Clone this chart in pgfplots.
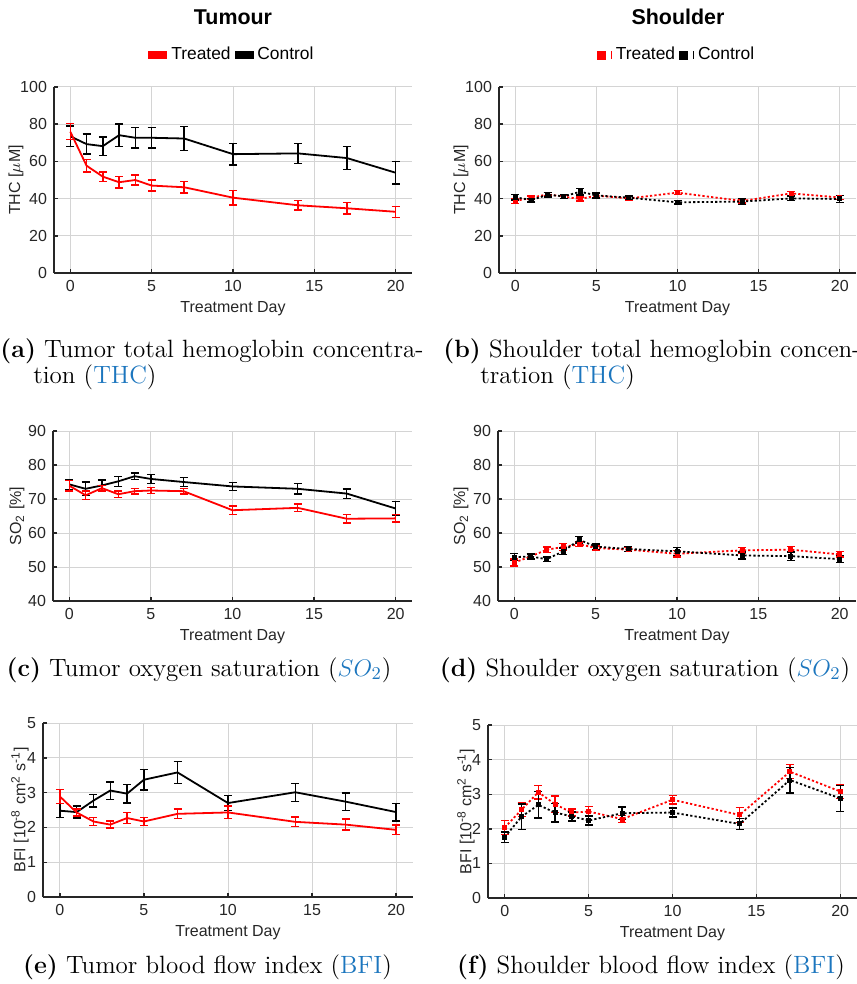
\documentclass[border=0pt]{standalone}
\usepackage{fontspec}
\setsansfont{Liberation Sans}
\usepackage{pgfplots}
\pgfplotsset{compat=1.18}

\definecolor{capblue}{RGB}{28,118,190}
\newcommand\capfont{\rmfamily\fontsize{12.5}{15}\selectfont}
\newcommand\axfont{\sffamily\fontsize{8}{9.5}\selectfont}

\pgfplotsset{
  panel/.style={
    scale only axis,
    axis x line*=bottom, axis y line*=left,
    axis line style={-, black!85, line width=0.7pt},
    xmin=-1, xmax=21, xtick={0,5,10,15,20},
    grid=major, grid style={black!17, line width=0.5pt},
    tick align=inside, major tick length=2pt,
    tick style={black!85, line width=0.7pt},
    tick label style={font=\axfont, text=black!85},
    label style={font=\axfont, text=black!85},
    /pgf/number format/assume math mode=true,
    xlabel={Treatment Day},
    xlabel style={yshift=2pt},
  },
  yl/.style={every axis y label/.style={at={([xshift=-#1]axis description cs:0,0.5)},
    rotate=90, anchor=center, font=\axfont, text=black!85}},
  tr/.style={red, line width=0.9pt, mark=none},
  ct/.style={black, line width=0.9pt, mark=none},
  trd/.style={red, line width=0.9pt, dash pattern=on 1.1pt off 1.1pt, mark=square*, mark size=0.8pt, mark options={solid}},
  ctd/.style={black, line width=0.9pt, dash pattern=on 1.1pt off 1.1pt, mark=square*, mark size=0.8pt, mark options={solid}},
  ebr/.style={error bars/.cd, y dir=both, y explicit,
    error bar style={red, line width=0.7pt, solid},
    error mark=-,
    error mark options={rotate=90, red, mark size=2pt, line width=0.7pt, solid}},
  ebk/.style={error bars/.cd, y dir=both, y explicit,
    error bar style={black, line width=0.7pt, solid},
    error mark=-,
    error mark options={rotate=90, black, mark size=2pt, line width=0.7pt, solid}},
  leg/.style={legend style={draw=none, fill=none, font=\sffamily\fontsize{8.7}{10}\selectfont,
    at={(0.5,1)}, anchor=center, yshift=16pt, inner sep=0pt,
    /tikz/every even column/.append style={column sep=0pt}},
    legend columns=2},
}

\begin{document}
\begin{tikzpicture}
\useasboundingbox (0pt,0pt) rectangle (428pt,-492pt);

\node[font=\sffamily\bfseries\fontsize{10.7}{12}\selectfont] at (116.5pt,-8.5pt) {Tumour};
\node[font=\sffamily\bfseries\fontsize{10.7}{12}\selectfont] at (339pt,-8.5pt) {Shoulder};

% (a) tumour THC
\begin{axis}[panel, leg, yl=19pt, at={(27pt,-136.5pt)}, anchor=south west, width=179pt, height=93pt,
  ymin=0, ymax=100, ytick={0,20,...,100}, ylabel={THC [$\mu$M]}]
\addlegendimage{legend image code/.code={\fill[red] (0pt,-1.6pt) rectangle (9pt,1.6pt);}}
\addlegendentry{Treated}
\addlegendimage{legend image code/.code={\fill[black] (0pt,-1.6pt) rectangle (9pt,1.6pt);}}
\addlegendentry{Control}
\addplot[forget plot, ct, ebk] coordinates {
 (0,73.5) +- (0,5.5) (1,69.3) +- (0,5.4) (2,68.2) +- (0,5) (3,74.1) +- (0,6)
 (4,72.7) +- (0,5.6) (5,72.7) +- (0,5.6) (7,72.3) +- (0,6.4) (10,63.9) +- (0,5.8)
 (14,64.3) +- (0,5.3) (17,61.8) +- (0,6.3) (20,53.9) +- (0,6)};
\addplot[forget plot, tr, ebr] coordinates {
 (0,76) +- (0,4.3) (1,57.7) +- (0,3.3) (2,51.8) +- (0,2.5) (3,48.8) +- (0,3)
 (4,50) +- (0,2.7) (5,47) +- (0,3) (7,46.1) +- (0,3) (10,40.5) +- (0,3.9)
 (14,36.4) +- (0,2.5) (17,34.8) +- (0,3) (20,32.9) +- (0,3)};
\end{axis}

% (b) shoulder THC
\begin{axis}[panel, leg, yl=19pt, at={(249.5pt,-136.5pt)}, anchor=south west, width=178.5pt, height=93pt,
  ymin=0, ymax=100, ytick={0,20,...,100}, ylabel={THC [$\mu$M]}]
\addlegendimage{legend image code/.code={\fill[red] (0pt,-2pt) rectangle (4pt,2pt);
  \draw[red, line width=0.6pt] (7pt,-2pt) -- (7pt,2pt);}}
\addlegendentry{Treated}
\addlegendimage{legend image code/.code={\fill[black] (0pt,-2pt) rectangle (4pt,2pt);
  \draw[black, line width=0.6pt] (7pt,-2pt) -- (7pt,2pt);}}
\addlegendentry{Control}
\addplot[forget plot, trd, ebr] coordinates {
 (0,38.7) +- (0,1.2) (1,40.5) +- (0,1) (2,42.3) +- (0,1) (3,41) +- (0,1)
 (4,39.8) +- (0,1) (5,41.6) +- (0,1) (7,40.1) +- (0,1) (10,43.2) +- (0,1)
 (14,38.7) +- (0,1) (17,42.8) +- (0,1) (20,40.6) +- (0,1)};
\addplot[forget plot, ctd, ebk] coordinates {
 (0,40.7) +- (0,1.5) (1,39.2) +- (0,1) (2,42.1) +- (0,1.3) (3,41.2) +- (0,1)
 (4,43.7) +- (0,1.8) (5,41.7) +- (0,1.3) (7,40.5) +- (0,1) (10,38) +- (0,1)
 (14,38.4) +- (0,1.5) (17,40.1) +- (0,1.2) (20,39.8) +- (0,2)};
\end{axis}

% (c) tumour SO2
\begin{axis}[panel, yl=18pt, at={(26.5pt,-300.5pt)}, anchor=south west, width=179.5pt, height=85pt,
  ymin=40, ymax=90, ytick={40,50,...,90}, ylabel={SO\textsubscript{2} [\%]}]
\addplot[ct, ebk] coordinates {
 (0,74.3) +- (0,1.5) (1,73) +- (0,2) (2,74) +- (0,1.6) (3,75.2) +- (0,1.5)
 (4,76.7) +- (0,1) (5,75.9) +- (0,1.3) (7,75) +- (0,1.4) (10,73.7) +- (0,1.2)
 (14,73) +- (0,1.5) (17,71.6) +- (0,1.4) (20,67.2) +- (0,2)};
\addplot[tr, ebr] coordinates {
 (0,73.9) +- (0,1.5) (1,71.1) +- (0,1.3) (2,73.2) +- (0,0.8) (3,71.4) +- (0,1)
 (4,72.3) +- (0,0.8) (5,72.5) +- (0,0.8) (7,72.3) +- (0,0.8) (10,66.7) +- (0,1.2)
 (14,67.4) +- (0,1.1) (17,64.2) +- (0,1.2) (20,64.3) +- (0,1.1)};
\end{axis}

% (d) shoulder SO2
\begin{axis}[panel, yl=18.5pt, at={(249pt,-300.5pt)}, anchor=south west, width=179pt, height=85pt,
  ymin=40, ymax=90, ytick={40,50,...,90}, ylabel={SO\textsubscript{2} [\%]}]
\addplot[trd, ebr] coordinates {
 (0,51.3) +- (0,1) (1,53.1) +- (0,0.7) (2,55.1) +- (0,0.8) (3,55.9) +- (0,1)
 (4,56.7) +- (0,0.7) (5,55.6) +- (0,0.6) (7,55.1) +- (0,0.6) (10,53.9) +- (0,1)
 (14,54.9) +- (0,0.8) (17,55.1) +- (0,0.9) (20,53.7) +- (0,0.8)};
\addplot[ctd, ebk] coordinates {
 (0,52.9) +- (0,1) (1,53.1) +- (0,0.7) (2,52.3) +- (0,0.6) (3,54.6) +- (0,1)
 (4,58) +- (0,1) (5,56) +- (0,0.8) (7,55.3) +- (0,0.7) (10,54.6) +- (0,1.2)
 (14,53.4) +- (0,1) (17,53.2) +- (0,1.2) (20,52.3) +- (0,1)};
\end{axis}

% (e) tumour BFI
\begin{axis}[panel, yl=11.5pt, at={(21.5pt,-448.5pt)}, anchor=south west, width=185pt, height=87pt,
  ymin=0, ymax=5, ytick={0,1,...,5},
  ylabel={BFI [10\textsuperscript{-8} cm\textsuperscript{2} s\textsuperscript{-1}]}]
\addplot[ct, ebk] coordinates {
 (0,2.48) +- (0,0.2) (1,2.44) +- (0,0.17) (2,2.77) +- (0,0.18) (3,3.06) +- (0,0.25)
 (4,2.97) +- (0,0.27) (5,3.37) +- (0,0.3) (7,3.58) +- (0,0.32) (10,2.7) +- (0,0.22)
 (14,3.01) +- (0,0.26) (17,2.74) +- (0,0.25) (20,2.44) +- (0,0.25)};
\addplot[tr, ebr] coordinates {
 (0,2.89) +- (0,0.2) (1,2.43) +- (0,0.1) (2,2.17) +- (0,0.12) (3,2.08) +- (0,0.1)
 (4,2.27) +- (0,0.15) (5,2.17) +- (0,0.12) (7,2.39) +- (0,0.14) (10,2.43) +- (0,0.18)
 (14,2.16) +- (0,0.14) (17,2.08) +- (0,0.16) (20,1.93) +- (0,0.14)};
\end{axis}

% (f) shoulder BFI
\begin{axis}[panel, yl=11pt, at={(244pt,-449pt)}, anchor=south west, width=184.5pt, height=86.5pt,
  ymin=0, ymax=5, ytick={0,1,...,5},
  ylabel={BFI [10\textsuperscript{-8} cm\textsuperscript{2} s\textsuperscript{-1}]}]
\addplot[trd, ebr] coordinates {
 (0,2.04) +- (0,0.2) (1,2.55) +- (0,0.2) (2,3.06) +- (0,0.2) (3,2.71) +- (0,0.24)
 (4,2.47) +- (0,0.1) (5,2.5) +- (0,0.15) (7,2.28) +- (0,0.1) (10,2.84) +- (0,0.12)
 (14,2.4) +- (0,0.22) (17,3.65) +- (0,0.2) (20,3.08) +- (0,0.2)};
\addplot[ctd, ebk] coordinates {
 (0,1.76) +- (0,0.15) (1,2.35) +- (0,0.37) (2,2.69) +- (0,0.38) (3,2.47) +- (0,0.27)
 (4,2.36) +- (0,0.13) (5,2.24) +- (0,0.13) (7,2.45) +- (0,0.18) (10,2.47) +- (0,0.13)
 (14,2.14) +- (0,0.16) (17,3.41) +- (0,0.37) (20,2.88) +- (0,0.38)};
\end{axis}

% captions
\node[anchor=base west, inner sep=0pt, font=\capfont] at (0pt,-178.5pt) {\textbf{(a)} Tumor total hemoglobin concentra-};
\node[anchor=base west, inner sep=0pt, font=\capfont] at (16.5pt,-191.5pt) {tion (\textcolor{capblue}{THC})};
\node[anchor=base west, inner sep=0pt, font=\capfont] at (221.5pt,-178.5pt) {\textbf{(b)} Shoulder total hemoglobin concen-};
\node[anchor=base west, inner sep=0pt, font=\capfont] at (240pt,-191.5pt) {tration (\textcolor{capblue}{THC})};
\node[anchor=base, inner sep=0pt, font=\capfont] at (99.5pt,-338pt) {\textbf{(c)} Tumor oxygen saturation (\textcolor{capblue}{$SO_2$})};
\node[anchor=base, inner sep=0pt, font=\capfont] at (322.5pt,-338pt) {\textbf{(d)} Shoulder oxygen saturation (\textcolor{capblue}{$SO_2$})};
\node[anchor=base, inner sep=0pt, font=\capfont] at (103.75pt,-486.5pt) {\textbf{(e)} Tumor blood flow index (\textcolor{capblue}{BFI})};
\node[anchor=base, inner sep=0pt, font=\capfont] at (325.5pt,-486.5pt) {\textbf{(f)} Shoulder blood flow index (\textcolor{capblue}{BFI})};
\end{tikzpicture}
\end{document}
